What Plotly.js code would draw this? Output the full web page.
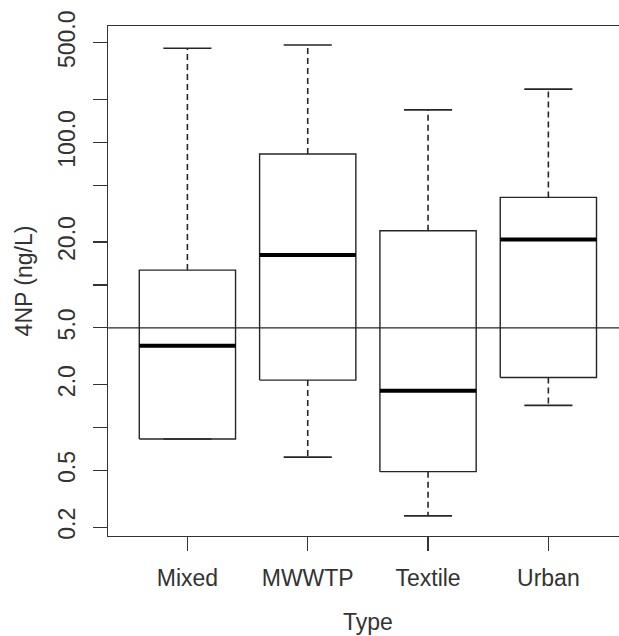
<!DOCTYPE html>
<html>
<head>
<meta charset="utf-8">
<script src="https://cdn.plot.ly/plotly-3.0.1.min.js"></script>
<style>html,body{margin:0;padding:0;background:#fff;}#chart{width:619px;height:636px;}</style>
</head>
<body>
<div id="chart"></div>
<script>
// Data (ng/L)
var categories = ['Mixed', 'MWWTP', 'Textile', 'Urban'];
var minVals    = [0.83, 0.62, 0.24, 1.43];
var q1Vals     = [0.83, 2.15, 0.49, 2.24];
var medianVals = [3.74, 16.2, 1.81, 20.8];
var q3Vals     = [12.7, 82.8, 24.0, 41.1];
var maxVals    = [457, 482, 169, 236];
var refLine    = 5;
var yTickVals  = [0.2, 0.5, 1, 2, 5, 10, 20, 50, 100, 200, 500];
var yTickText  = ['0.2', '0.5', '', '2.0', '5.0', '', '20.0', '', '100.0', '', '500.0'];

var boxHalf = 0.4, stapleHalf = 0.2;
var lineCol = '#262626';

var boxX = [], boxY = [], medX = [], medY = [], whX = [], whY = [], stX = [], stY = [];
categories.forEach(function (c, i) {
  var p = i + 1;
  boxX.push(p - boxHalf, p + boxHalf, p + boxHalf, p - boxHalf, p - boxHalf, null);
  boxY.push(q1Vals[i], q1Vals[i], q3Vals[i], q3Vals[i], q1Vals[i], null);
  medX.push(p - boxHalf, p + boxHalf, null);
  medY.push(medianVals[i], medianVals[i], null);
  whX.push(p, p, null, p, p, null);
  whY.push(q3Vals[i], maxVals[i], null, q1Vals[i], minVals[i], null);
  stX.push(p - stapleHalf, p + stapleHalf, null, p - stapleHalf, p + stapleHalf, null);
  stY.push(maxVals[i], maxVals[i], null, minVals[i], minVals[i], null);
});

var traces = [
  {x: whX, y: whY, mode: 'lines', line: {color: lineCol, width: 1.6, dash: '6px,4px'}, hoverinfo: 'skip', showlegend: false},
  {x: stX, y: stY, mode: 'lines', line: {color: lineCol, width: 1.6}, hoverinfo: 'skip', showlegend: false},
  {x: boxX, y: boxY, mode: 'lines', line: {color: lineCol, width: 1.4}, hoverinfo: 'skip', showlegend: false},
  {x: medX, y: medY, mode: 'lines', line: {color: '#000', width: 4}, hoverinfo: 'skip', showlegend: false}
];

var font = {family: '"Liberation Sans", Arial, sans-serif', size: 23, color: '#333'};

var layout = {
  width: 619, height: 636,
  margin: {l: 108, r: 0, t: 26, b: 100, pad: 0},
  paper_bgcolor: '#fff', plot_bgcolor: '#fff',
  font: font,
  showlegend: false,
  xaxis: {
    range: [0.34, 4.587],
    tickvals: [1, 2, 3, 4], ticktext: categories,
    showgrid: false, zeroline: false,
    showline: true, mirror: true, linecolor: '#333', linewidth: 1.3,
    ticks: 'outside', ticklen: 14, tickwidth: 1.3, tickcolor: '#333',
    ticklabelstandoff: 7,
    tickfont: font
  },
  yaxis: {
    type: 'log',
    range: [-0.761, 2.816],
    tickvals: yTickVals, ticktext: yTickText,
    tickangle: -90,
    showgrid: false, zeroline: false,
    showline: true, mirror: false, linecolor: '#333', linewidth: 1.3,
    ticks: 'outside', ticklen: 14, tickwidth: 1.3, tickcolor: '#333',
    ticklabelstandoff: 9,
    tickfont: font,
    title: {text: '4NP (ng/L)', font: font, standoff: 14}
  },
  annotations: [{
    text: 'Type', xref: 'x', x: 2.5, yref: 'paper', y: 0, yshift: -101,
    xanchor: 'center', yanchor: 'bottom', showarrow: false, font: font
  }],
  shapes: [{type: 'line', xref: 'paper', x0: 0, x1: 1, yref: 'y', y0: refLine, y1: refLine,
            line: {color: lineCol, width: 1.3}}]
};

Plotly.newPlot('chart', traces, layout, {displayModeBar: false, staticPlot: true});
</script>
</body>
</html>
